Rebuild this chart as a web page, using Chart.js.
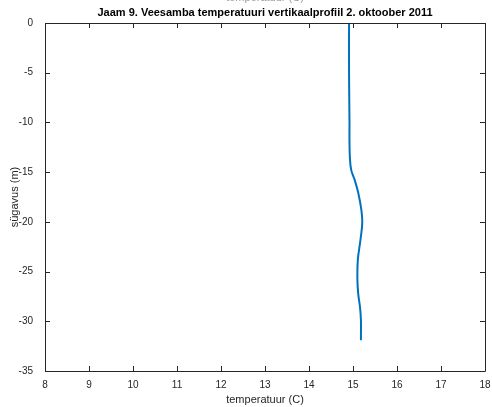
<!DOCTYPE html>
<html>
<head>
<meta charset="utf-8">
<script src="https://cdn.jsdelivr.net/npm/chart.js@4"></script>
<style>
  html, body { margin: 0; padding: 0; background: #fff; }
  #wrap { width: 492px; height: 407px; }
</style>
</head>
<body>
<div id="wrap"><canvas id="myChart" width="492" height="407"></canvas></div>
<script>
// profile data
const depth = [0, -5, -10, -11.8, -13.6, -14.8, -15.8, -17.1, -18.8, -20.1, -21.8, -23.8, -25.8, -27.3, -28.6, -29.9, -31.9];
const temp  = [14.91, 14.91, 14.92, 14.92, 14.93, 14.96, 15.04, 15.12, 15.19, 15.21, 15.17, 15.11, 15.10, 15.12, 15.16, 15.18, 15.18];
const xTicks = [8, 9, 10, 11, 12, 13, 14, 15, 16, 17, 18];
const yTicks = [0, -5, -10, -15, -20, -25, -30, -35];

const titleText = 'Jaam 9. Veesamba temperatuuri vertikaalprofiil 2. oktoober 2011';
const fontFam = '"Liberation Sans", Arial, Helvetica, sans-serif';
const axisCol = '#262626';

// box + inward ticks like matlab, and the title
const boxPlugin = {
  id: 'box',
  afterDraw(chart) {
    const c = chart.ctx, a = chart.chartArea;
    const xs = chart.scales.x, ys = chart.scales.y;
    c.save();
    c.strokeStyle = axisCol;
    c.lineWidth = 1;
    c.beginPath();
    c.rect(Math.round(a.left) + 0.5, Math.round(a.top) + 0.5, Math.round(a.right - a.left), Math.round(a.bottom - a.top));
    xTicks.forEach(v => {
      let px = Math.round(xs.getPixelForValue(v)) + 0.5;
      c.moveTo(px, a.bottom); c.lineTo(px, a.bottom - 5);
      c.moveTo(px, a.top); c.lineTo(px, a.top + 5);
    });
    yTicks.forEach(v => {
      let py = Math.round(ys.getPixelForValue(v)) + 0.5;
      c.moveTo(a.left, py); c.lineTo(a.left + 5, py);
      c.moveTo(a.right, py); c.lineTo(a.right - 5, py);
    });
    c.stroke();

    c.fillStyle = '#000';
    c.font = 'bold 11px ' + fontFam;
    c.textAlign = 'center';
    c.textBaseline = 'middle';
    c.fillText(titleText, (a.left + a.right) / 2, 13);

    // clipped label at the very top
    c.fillStyle = '#999';
    c.font = '11px ' + fontFam;
    c.textBaseline = 'alphabetic';
    c.fillText('temperatuur (C)', (a.left + a.right) / 2, 1);
    c.restore();
  }
};

var ctx = document.getElementById('myChart').getContext('2d');
var myChart = new Chart(ctx, {
  type: 'scatter',
  data: {
    datasets: [
      {
        data: depth.map((d, i) => ({ x: temp[i], y: d })),
        showLine: true,
        borderColor: '#0072BD',
        borderWidth: 2,
        pointRadius: 0,
        tension: 0.4
      }
    ]
  },
  plugins: [boxPlugin],
  options: {
    responsive: false,
    animation: false,
    layout: {
      padding: { left: 8, right: 7, top: 23, bottom: 0 }
    },
    plugins: {
      legend: { display: false },
      tooltip: { enabled: false }
    },
    scales: {
      x: {
        type: 'linear',
        min: 8,
        max: 18,
        afterBuildTicks: s => { s.ticks = xTicks.map(v => ({ value: v })); },
        afterFit: s => { s.height = 36; },
        grid: { display: false },
        border: { display: false },
        ticks: { color: axisCol, font: { family: fontFam, size: 10 }, padding: 0, maxRotation: 0 },
        title: { display: true, text: 'temperatuur (C)', color: axisCol, font: { family: fontFam, size: 11 }, padding: { top: 0, bottom: 0 } }
      },
      y: {
        type: 'linear',
        min: -35,
        max: 0,
        afterBuildTicks: s => { s.ticks = yTicks.map(v => ({ value: v })); },
        afterFit: s => { s.width = 37; },
        grid: { display: false },
        border: { display: false },
        ticks: { color: axisCol, font: { family: fontFam, size: 10 }, padding: 4 },
        title: { display: true, text: 'sügavus (m)', color: axisCol, font: { family: fontFam, size: 11 }, padding: { top: 0, bottom: 0 } }
      }
    }
  }
});
</script>
</body>
</html>
